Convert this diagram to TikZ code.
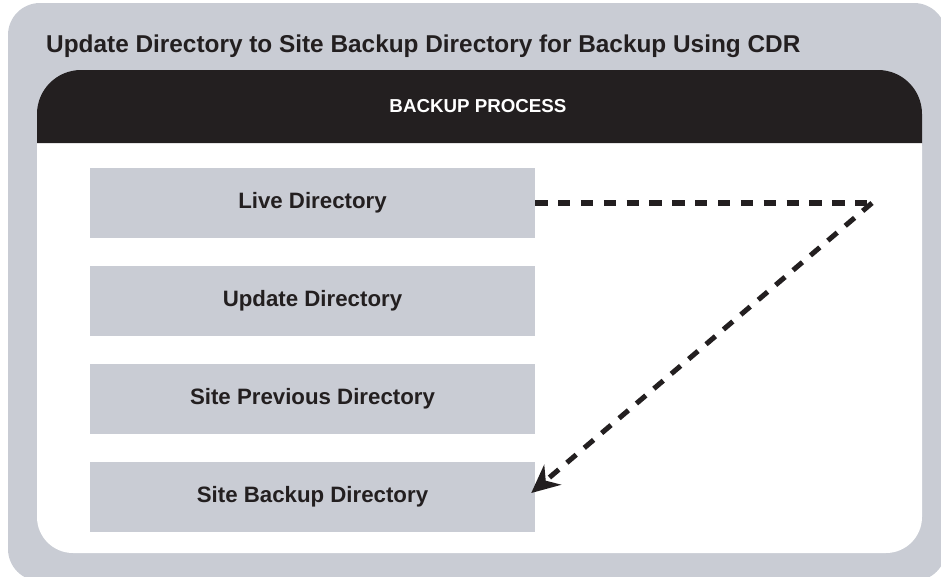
\documentclass[tikz,border=0pt]{standalone}
\usepackage{fontspec}
\setmainfont{Liberation Sans}
\usepackage{xcolor}
\usetikzlibrary{arrows.meta}
\definecolor{paneltint}{HTML}{C9CCD4}
\definecolor{panelink}{HTML}{231F20}
\tikzset{
  dirbox/.style={fill=paneltint, minimum width=445*0.03cm, minimum height=70*0.03cm,
    inner sep=0pt, font=\fontsize{19}{22}\selectfont\bfseries, text=panelink},
  flowline/.style={draw=panelink, line width=4.3pt, dash pattern=on 10.5pt off 9pt}
}
\newcommand{\dirrow}[3]{%
  \node[dirbox] (#1) at (312.5,#2) {#3};
}

\begin{document}
\begin{tikzpicture}[x=0.03cm, y=-0.03cm]

  \useasboundingbox (0,0) rectangle (941,576);
  \fill[paneltint, rounded corners=32*0.03cm] (8,3) rectangle (946,581);

  \fill[white, rounded corners=36*0.03cm] (37,110) rectangle (922,553);
  \fill[panelink] (37,143) [rounded corners=44*0.03cm] -- (37,70) -- (922,70)
    [sharp corners] -- (922,143) -- cycle;

  \node[anchor=base west, font=\fontsize{20.8}{24}\selectfont\bfseries, text=panelink, inner sep=0pt]
    (title) at (46,52) {Update Directory to Site Backup Directory for Backup Using CDR};
  \node[font=\fontsize{16}{19}\selectfont\bfseries, text=white] (header) at (478,106) {BACKUP PROCESS};

  \dirrow{live}{203}{Live Directory}
  \dirrow{update}{301}{Update Directory}
  \dirrow{previous}{399}{Site Previous Directory}
  \dirrow{backup}{497}{Site Backup Directory}

  \coordinate (turn) at (872,203);
  \draw[flowline] (live.east) -- (turn);
  \draw[flowline, -{Stealth[length=28*0.03cm, width=26*0.03cm, inset=9*0.03cm]}]
    (turn) -- ([xshift=-4*0.03cm, yshift=4*0.03cm]backup.east);

\end{tikzpicture}
\end{document}
